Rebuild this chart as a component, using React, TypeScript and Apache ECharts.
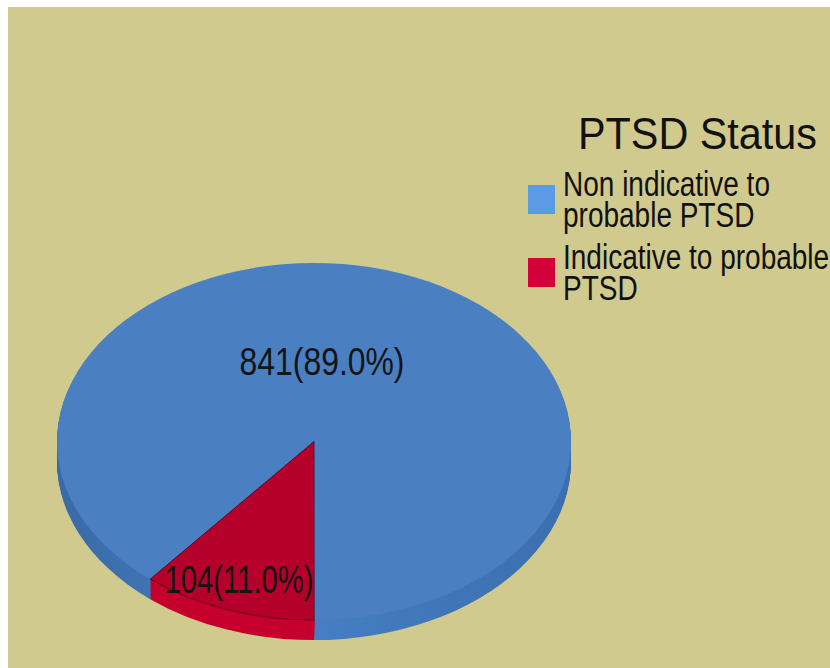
import React, { useEffect, useRef } from 'react';
import * as echarts from 'echarts';

// ---- data ----
const titleText = 'PTSD Status';
const categories = ['Non indicative to probable PTSD', 'Indicative to probable PTSD'];
const legendLines = ['Non indicative to\nprobable PTSD', 'Indicative to probable\nPTSD'];
const values = [841, 104];

// ---- styles / layout ----
const BG = '#d0ca8e';
const TOP_COLORS = ['#4a80c2', '#b4002a'];
const SIDE_COLORS = [
  { type: 'linear', x: 0, y: 0, x2: 1, y2: 0, colorStops: [
    { offset: 0, color: '#3a6aa6' }, { offset: 0.45, color: '#4680c6' }, { offset: 1, color: '#3b6eae' } ] },
  '#c6002d',
];
const LEGEND_COLORS = ['#5b9be6', '#d4003a'];
const CX = 306, CY = 434.5, RX = 257, RY = 178.5, DEPTH = 20;
const START_DEG = 129.6;
const LABEL_OFFSETS = [[8, -80], [-75, 138]];
const LABEL_SCALE_X = [0.84, 0.77];
const FONT = '"Liberation Sans", Arial, sans-serif';

const LEGEND_X = 520, LEGEND_Y0 = 192.5, LEGEND_STEP = 73, SW_W = 27, SW_H = 29, LEGEND_TEXT_X = 555;

const total = values.reduce((a, b) => a + b, 0);

function makeRender(i: number) {
  return (params: any, api: any) => {
    let before = 0;
    for (let j = 0; j < i; j++) before += values[j];
    const v = api.value(0);
    const start = (START_DEG * Math.PI) / 180;
    const a0 = start + (before / total) * Math.PI * 2;
    const a1 = a0 + (v / total) * Math.PI * 2;
    const k = RY / RX;
    const children: any[] = [];
    for (let d = DEPTH; d >= 1; d--) {
      children.push({
        type: 'group', x: CX, y: CY + d, scaleY: k,
        children: [{
          type: 'sector', z2: 1,
          shape: { cx: 0, cy: 0, r: RX, r0: 0, startAngle: a0, endAngle: a1, clockwise: true },
          style: { fill: SIDE_COLORS[i] },
        }],
      });
    }
    children.push({
      type: 'group', x: CX, y: CY, scaleY: k,
      children: [{
        type: 'sector', z2: 10,
        shape: { cx: 0, cy: 0, r: RX, r0: 0, startAngle: a0, endAngle: a1, clockwise: true },
        style: { fill: TOP_COLORS[i], stroke: i === 1 ? '#5a0016' : TOP_COLORS[i], lineWidth: i === 1 ? 1 : 0 },
      }],
    });
    const pct = ((v / total) * 100).toFixed(1);
    children.push({
      type: 'text', z2: 20,
      x: CX + LABEL_OFFSETS[i][0], y: CY + LABEL_OFFSETS[i][1], scaleX: LABEL_SCALE_X[i],
      style: {
        text: `${v}(${pct}%)`, fontSize: 38, fontFamily: FONT, fill: '#141414',
        textAlign: 'center', textVerticalAlign: 'middle',
      },
    });
    return { type: 'group', children };
  };
}

export default function App() {
  const ref = useRef<HTMLDivElement>(null);
  useEffect(() => {
    if (!ref.current) return;
    const chart = echarts.init(ref.current, undefined, { renderer: 'svg' });
    const graphics: any[] = [
      {
        type: 'text', x: 570, y: 127, scaleX: 0.94,
        style: { text: titleText, fontSize: 44, fontFamily: FONT, fill: '#111', textAlign: 'left', textVerticalAlign: 'middle' },
      },
    ];
    categories.forEach((name, i) => {
      const cy = LEGEND_Y0 + i * LEGEND_STEP;
      graphics.push({
        type: 'rect', shape: { x: LEGEND_X, y: cy - SW_H / 2, width: SW_W, height: SW_H },
        style: { fill: LEGEND_COLORS[i] },
      });
      graphics.push({
        type: 'text', x: LEGEND_TEXT_X, y: cy, scaleX: 0.8,
        style: { text: legendLines[i], fontSize: 35, lineHeight: 31, fontFamily: FONT, fill: '#111', textAlign: 'left', textVerticalAlign: 'middle' },
      });
    });
    chart.setOption({
      animation: false,
      backgroundColor: BG,
      graphic: graphics,
      series: categories.map((name, i) => ({
        type: 'custom', name, coordinateSystem: 'none', silent: true,
        itemStyle: { color: LEGEND_COLORS[i] },
        data: [values[i]],
        renderItem: makeRender(i),
      })),
    });
    return () => chart.dispose();
  }, []);
  return <div ref={ref} style={{ position: 'absolute', left: 8, top: 7, width: 822, height: 661 }} />;
}
